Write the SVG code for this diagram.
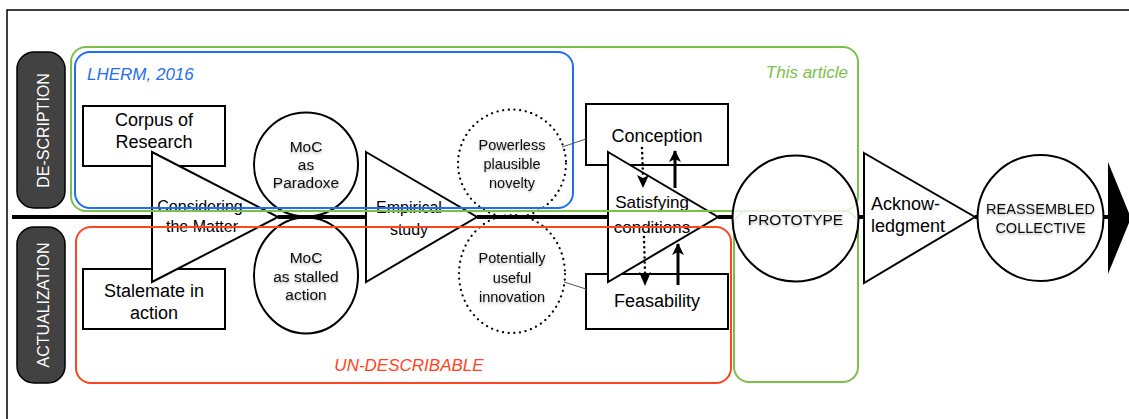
<svg xmlns="http://www.w3.org/2000/svg" width="1129" height="419" viewBox="0 0 1129 419">
<defs>
<style>
.t{font-family:"Liberation Sans",Arial,sans-serif;fill:#000;text-anchor:middle}
.ct{font-family:"Liberation Sans",Arial,sans-serif;fill:#111;text-anchor:middle;filter:url(#sh)}
.box{fill:#fff;stroke:#000;stroke-width:2}
.tri{fill:#fff;stroke:#000;stroke-width:2;stroke-linejoin:miter}
.circ{fill:#fff;stroke:#000;stroke-width:2}
.dot{fill:none;stroke:#000;stroke-width:2.2;stroke-dasharray:0.1 5.6;stroke-linecap:round}
.pill{fill:#424242;stroke:#000;stroke-width:1.5}
.pt{font-family:"Liberation Sans",Arial,sans-serif;font-size:16px;fill:#fff;text-anchor:middle}
.it{font-family:"Liberation Sans",Arial,sans-serif;font-style:italic;font-size:17px}
.axis{fill:none;stroke:#000;stroke-width:4}
.arr{fill:none;stroke:#000;stroke-width:3}
.darr{fill:none;stroke:#000;stroke-width:2.5;stroke-dasharray:0.1 5;stroke-linecap:round}
.thin{fill:none;stroke:#555;stroke-width:1}
</style>
<filter id="sh" x="-20%" y="-30%" width="140%" height="180%">
<feDropShadow dx="0" dy="1.5" stdDeviation="1.2" flood-color="#000" flood-opacity="0.3"/>
</filter>
<marker id="ah" markerWidth="12" markerHeight="12" refX="11" refY="6" orient="auto" markerUnits="userSpaceOnUse">
<path d="M0,0 L12,6 L0,12 L3,6 z" fill="#000"/>
</marker>
</defs>

<path d="M7,419 V10 H1129" fill="none" stroke="#000" stroke-width="1.5"/>

<g id="lane-description">
<rect class="pill" x="17" y="52" width="48" height="156" rx="17"/>
<text class="pt" transform="rotate(-90 49 130.5)" x="49" y="130.5">DE-SCRIPTION</text>
</g>
<g id="lane-actualization">
<rect class="pill" x="17" y="227" width="48" height="156" rx="17"/>
<text class="pt" transform="rotate(-90 49 305)" x="49" y="305">ACTUALIZATION</text>
</g>

<g id="corpus">
<rect class="box" x="83" y="106" width="142" height="60"/>
<text class="t" font-size="18" x="154" y="126">Corpus of</text>
<text class="t" font-size="18" x="154" y="148">Research</text>
</g>
<g id="stalemate">
<rect class="box" x="83" y="269" width="142" height="60"/>
<text class="t" font-size="18" x="154" y="297">Stalemate in</text>
<text class="t" font-size="18" x="154" y="319">action</text>
</g>
<g id="considering">
<polygon class="tri" points="152,152 278,217 152,282"/>
<text class="t" font-size="16" x="200" y="212">Considering</text>
<text class="t" font-size="16" x="202" y="232">the Matter</text>
</g>
<g id="moc-paradoxe">
<circle class="circ" cx="306" cy="164.5" r="52"/>
<text class="ct" font-size="15.5" x="306" y="152">MoC</text>
<text class="ct" font-size="15.5" x="306" y="170">as</text>
<text class="ct" font-size="15.5" x="306" y="188">Paradoxe</text>
</g>
<g id="moc-stalled">
<ellipse class="circ" cx="306" cy="275.5" rx="52" ry="58"/>
<text class="ct" font-size="15.5" x="306" y="263">MoC</text>
<text class="ct" font-size="15.5" x="306" y="282">as stalled</text>
<text class="ct" font-size="15.5" x="306" y="300">action</text>
</g>
<g id="empirical">
<polygon class="tri" points="366,152 477,217 366,282"/>
<text class="t" font-size="16" x="409" y="213">Empirical</text>
<text class="t" font-size="16" x="409" y="235">study</text>
</g>
<g id="powerless">
<circle class="dot" cx="512" cy="163.5" r="54"/>
<text class="ct" font-size="14.5" x="512" y="150">Powerless</text>
<text class="ct" font-size="14.5" x="512" y="169">plausible</text>
<text class="ct" font-size="14.5" x="512" y="188">novelty</text>
</g>
<g id="potentially">
<ellipse class="dot" cx="512" cy="274" rx="53" ry="59"/>
<text class="ct" font-size="14.5" x="512" y="263">Potentially</text>
<text class="ct" font-size="14.5" x="512" y="283">useful</text>
<text class="ct" font-size="14.5" x="512" y="302">innovation</text>
</g>
<g id="conception">
<rect class="box" x="586" y="104" width="142" height="61"/>
<text class="t" font-size="18" x="657" y="142">Conception</text>
</g>
<g id="feasability">
<rect class="box" x="586" y="274" width="142" height="55"/>
<text class="t" font-size="18" x="657" y="307">Feasability</text>
</g>
<g id="satisfying">
<polygon class="tri" points="608,152 718,217 608,282"/>
<text class="t" font-size="17" x="652" y="208">Satisfying</text>
<text class="t" font-size="17" x="652" y="233">conditions</text>
</g>
<g id="acknowledgment">
<polygon class="tri" points="864,153 975,217 864,283"/>
<text class="t" font-size="18" x="871" y="210" style="text-anchor:start">Acknow-</text>
<text class="t" font-size="18" x="871" y="232" style="text-anchor:start">ledgment</text>
</g>
<g id="reassembled">
<circle class="circ" cx="1040.5" cy="218" r="63"/>
<text class="ct" font-size="14.5" x="1040.5" y="214">REASSEMBLED</text>
<text class="ct" font-size="14.5" x="1040.5" y="233">COLLECTIVE</text>
</g>

<g id="frames">
<rect x="75" y="52" width="498" height="156" rx="15" fill="none" stroke="#1f6ff2" stroke-width="2"/>
<text class="it" x="87" y="80" fill="#1f6ff2">LHERM, 2016</text>
<rect x="71" y="47" width="787" height="164" rx="15" fill="none" stroke="#7cc04a" stroke-width="2"/>
<rect x="734" y="211" width="124" height="171" rx="15" fill="none" stroke="#7cc04a" stroke-width="2"/>
<text class="it" x="848" y="78" fill="#7cc04a" text-anchor="end">This article</text>
<rect x="76" y="227" width="655" height="156" rx="15" fill="none" stroke="#ff4422" stroke-width="2"/>
<text class="it" x="409" y="371" fill="#ff4422" font-size="16" text-anchor="middle">UN-DESCRIBABLE</text>
</g>

<g id="prototype">
<circle cx="795.5" cy="218.5" r="63" fill="#fff" fill-opacity="0.8" stroke="#000" stroke-width="2"/>
<text class="ct" font-size="15.5" x="795.5" y="225">PROTOTYPE</text>
</g>

<g id="connectors">
<path class="axis" d="M12,217H152 M278,217H366 M477,217H608 M718,217H733 M858,217H864 M975,217H978 M1103,217H1108"/>
<polygon points="1108,162 1131,218 1108,274" fill="#000"/>
<line class="darr" x1="642" y1="148" x2="643" y2="176"/>
<path d="M637,175 L643,188 L649,175 L643,178 z" fill="#000"/>
<line class="arr" x1="675" y1="188" x2="675" y2="151" marker-end="url(#ah)"/>
<line class="darr" x1="644" y1="237" x2="645" y2="273"/>
<path d="M639,272 L645,286 L651,272 L645,275 z" fill="#000"/>
<line class="arr" x1="678" y1="285" x2="678" y2="244" marker-end="url(#ah)"/>
<line class="thin" x1="562" y1="147" x2="586" y2="139"/>
<line class="thin" x1="564" y1="282" x2="586" y2="289"/>
</g>
</svg>
